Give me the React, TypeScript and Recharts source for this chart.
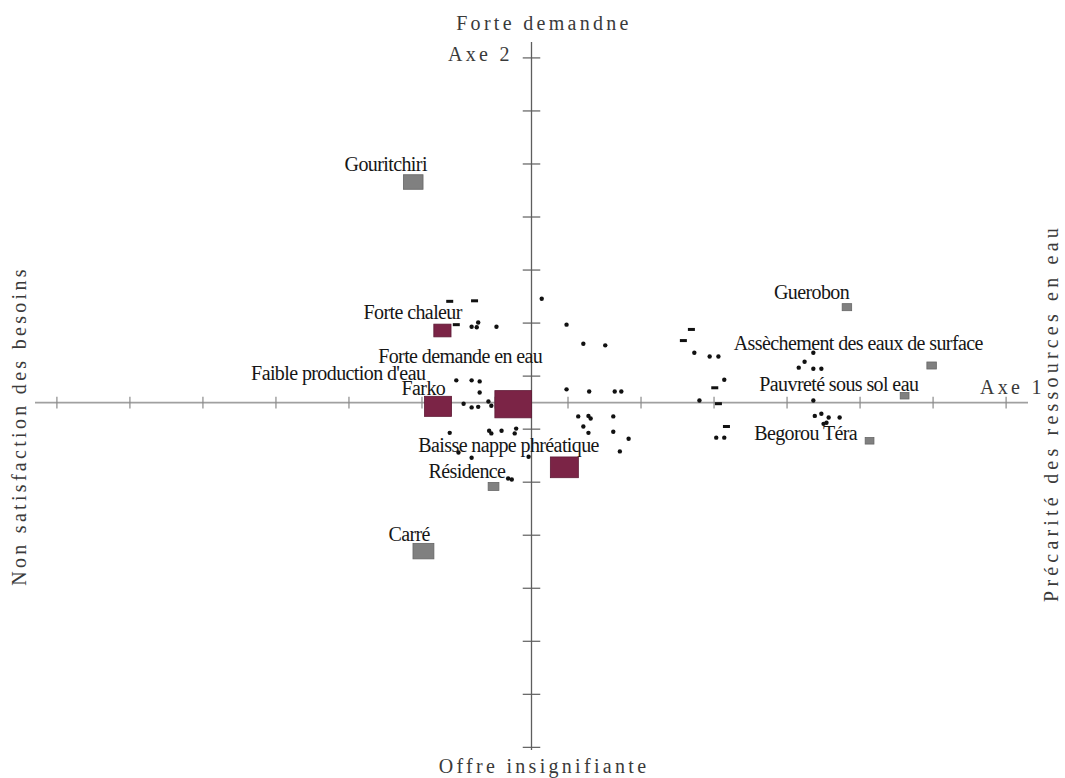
import React from 'react';
import {
  ScatterChart,
  Scatter,
  XAxis,
  YAxis,
  ZAxis,
  ReferenceLine,
} from 'recharts';

// Villages (grey squares), w = weight of the point
const villages = [
  { name: 'Gouritchiri', x: -1.62, y: 4.16, w: 30 },
  { name: 'Résidence', x: -0.52, y: -1.58, w: 9 },
  { name: 'Carré', x: -1.48, y: -2.8, w: 34 },
  { name: 'Guerobon', x: 4.32, y: 1.8, w: 7 },
  { name: 'Assèchement des eaux de surface', x: 5.48, y: 0.7, w: 7 },
  { name: 'Pauvreté sous sol eau', x: 5.11, y: 0.13, w: 6 },
  { name: 'Begorou Téra', x: 4.63, y: -0.72, w: 6 },
];

// Modalities (red squares)
const modalites = [
  { name: 'Forte chaleur', x: -1.22, y: 1.36, w: 23 },
  { name: 'Farko', x: -1.28, y: -0.07, w: 57 },
  { name: 'Forte demande en eau', x: -0.25, y: -0.03, w: 105 },
  { name: 'Baisse nappe phréatique', x: 0.45, y: -1.22, w: 61 },
];

// Individuals
const individus = [
  { x: 0.14, y: 1.96 }, { x: -0.82, y: 1.43 }, { x: -0.73, y: 1.51 }, { x: -0.75, y: 1.42 },
  { x: -0.48, y: 1.43 }, { x: 0.48, y: 1.47 }, { x: 0.71, y: 1.11 }, { x: 1.01, y: 1.08 },
  { x: -1.03, y: 0.42 }, { x: -0.82, y: 0.42 }, { x: -0.71, y: 0.4 }, { x: -0.71, y: 0.19 },
  { x: -0.93, y: -0.02 }, { x: -0.82, y: -0.09 }, { x: -0.73, y: -0.08 }, { x: -0.59, y: 0.02 },
  { x: -0.55, y: -0.06 }, { x: 0.48, y: 0.25 }, { x: 0.79, y: 0.21 }, { x: 1.14, y: 0.21 },
  { x: 1.23, y: 0.21 }, { x: 0.64, y: -0.26 }, { x: 0.78, y: -0.25 }, { x: 0.81, y: -0.3 },
  { x: 1.12, y: -0.26 }, { x: 0.71, y: -0.45 }, { x: 0.78, y: -0.57 }, { x: 1.12, y: -0.55 },
  { x: 1.33, y: -0.68 }, { x: -1.12, y: -0.57 }, { x: -0.58, y: -0.53 }, { x: -0.55, y: -0.58 },
  { x: -0.41, y: -0.53 }, { x: -0.21, y: -0.49 }, { x: -0.23, y: -0.58 }, { x: -1.0, y: -0.94 },
  { x: -0.82, y: -1.04 }, { x: -0.04, y: -1.02 }, { x: 1.21, y: -0.92 }, { x: -0.32, y: -1.43 },
  { x: -0.27, y: -1.45 }, { x: 2.23, y: 0.94 }, { x: 2.44, y: 0.87 }, { x: 2.56, y: 0.87 },
  { x: 3.86, y: 0.94 }, { x: 3.74, y: 0.77 }, { x: 3.66, y: 0.66 }, { x: 3.86, y: 0.64 },
  { x: 3.97, y: 0.64 }, { x: 2.64, y: 0.43 }, { x: 2.3, y: 0.04 }, { x: 3.86, y: 0.04 },
  { x: 3.88, y: -0.25 }, { x: 3.97, y: -0.21 }, { x: 4.07, y: -0.28 }, { x: 4.22, y: -0.28 },
  { x: 4.0, y: -0.4 }, { x: 4.04, y: -0.38 }, { x: 2.53, y: -0.66 }, { x: 2.64, y: -0.66 },
];

// overlapping individuals (drawn as short dashes)
const individusDoubles = [
  { x: -1.12, y: 1.91 }, { x: -0.78, y: 1.92 }, { x: -1.03, y: 1.47 }, { x: 2.19, y: 1.38 },
  { x: 2.08, y: 1.17 }, { x: 2.51, y: 0.28 }, { x: 2.56, y: -0.02 }, { x: 2.67, y: -0.45 },
];

// label anchors (start of text, baseline)
const etiquettes = [
  { name: 'Gouritchiri', x: -2.56, y: 4.36 },
  { name: 'Forte chaleur', x: -2.3, y: 1.58 },
  { name: 'Forte demande en eau', x: -2.1, y: 0.75 },
  { name: "Faible production d'eau", x: -3.84, y: 0.43 },
  { name: 'Farko', x: -1.78, y: 0.15 },
  { name: 'Baisse nappe phréatique', x: -1.55, y: -0.94 },
  { name: 'Résidence', x: -1.41, y: -1.43 },
  { name: 'Carré', x: -1.96, y: -2.6 },
  { name: 'Guerobon', x: 3.32, y: 1.96 },
  { name: 'Assèchement des eaux de surface', x: 2.77, y: 1.0 },
  { name: 'Pauvreté sous sol eau', x: 3.12, y: 0.21 },
  { name: 'Begorou Téra', x: 3.05, y: -0.7 },
];

const axisTicks = [-6.5, -5.5, -4.5, -3.5, -2.5, -1.5, -0.5, 0.5, 1.5, 2.5, 3.5, 4.5, 5.5, 6.5];

const W = 1065;
const H = 778;
const serif = '"Liberation Serif", "Times New Roman", serif';

const makeSquare = (fill: string, stroke: string) => (props: any) => {
  const { cx, cy, size } = props;
  if (cx == null || cy == null) return null;
  const area = Math.max(size || 0, 1);
  const w = Math.sqrt(area * 1.35);
  const h = area / w;
  return <rect x={cx - w / 2} y={cy - h / 2} width={w} height={h} fill={fill} stroke={stroke} strokeWidth={0.8} />;
};

const renderDot = (props: any) => <circle cx={props.cx} cy={props.cy} r={2.2} fill="#111" />;
const renderDash = (props: any) => <rect x={props.cx - 3.5} y={props.cy - 1.5} width={7} height={3} fill="#111" />;
const renderLabel = (props: any) => (
  <text x={props.cx} y={props.cy} fontFamily={serif} fontSize={20} fill="#161616" letterSpacing={-0.6}>
    {props.payload.name}
  </text>
);

export default function App() {
  const titleStyle = { fontFamily: serif, fontSize: 20, fill: '#3a3a3a', letterSpacing: 3.3 };
  return (
    <div style={{ position: 'absolute', left: 0, top: 0, width: W, height: H, background: '#fff' }}>
      <ScatterChart width={W} height={H} margin={{ top: 42, right: 37, bottom: 28, left: 35 }}>
        <XAxis type="number" dataKey="x" domain={[-6.8, 6.8]} hide allowDataOverflow />
        <YAxis type="number" dataKey="y" domain={[-6.55, 6.8]} hide allowDataOverflow />
        <ZAxis type="number" dataKey="w" domain={[0, 100]} range={[0, 1000]} />

        <ReferenceLine y={0} stroke="#a0a0a0" strokeWidth={1.6} />
        <ReferenceLine x={0} stroke="#5e5e5e" strokeWidth={1.3} />
        {axisTicks.map((t) => (
          <ReferenceLine
            key={`xt-${t}`}
            segment={[{ x: t, y: -0.11 }, { x: t, y: 0.11 }]}
            stroke="#8a8a8a"
            strokeWidth={1.2}
          />
        ))}
        {axisTicks.map((t) => (
          <ReferenceLine
            key={`yt-${t}`}
            segment={[{ x: -0.12, y: t }, { x: 0.12, y: t }]}
            stroke="#5e5e5e"
            strokeWidth={1.2}
          />
        ))}

        <Scatter data={individus} shape={renderDot} isAnimationActive={false} />
        <Scatter data={individusDoubles} shape={renderDash} isAnimationActive={false} />
        <Scatter data={villages} shape={makeSquare('#808080', '#666')} isAnimationActive={false} />
        <Scatter data={modalites} shape={makeSquare('#7b2446', '#5e1a35')} isAnimationActive={false} />
        <Scatter data={etiquettes} shape={renderLabel} isAnimationActive={false} />
      </ScatterChart>

      {/* pole titles */}
      <svg width={W} height={H} style={{ position: 'absolute', left: 0, top: 0, pointerEvents: 'none' }}>
        <text x={544} y={30} textAnchor="middle" {...titleStyle}>Forte demandne</text>
        <text x={448} y={61} {...titleStyle}>Axe 2</text>
        <text x={980} y={394} {...titleStyle}>Axe 1</text>
        <text x={544} y={773} textAnchor="middle" {...titleStyle}>Offre insignifiante</text>
        <text x={26} y={426} textAnchor="middle" transform="rotate(-90 26 426)" {...titleStyle}>
          Non satisfaction des besoins
        </text>
        <text
          x={1058}
          y={413}
          textAnchor="middle"
          transform="rotate(-90 1058 413)"
          {...titleStyle}
          letterSpacing={4.2}
        >
          Précarité des ressources en eau
        </text>
      </svg>
    </div>
  );
}
